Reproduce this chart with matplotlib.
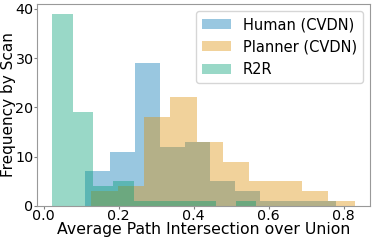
import numpy as np
import matplotlib
matplotlib.use('Agg')
import matplotlib.pyplot as plt

# 每个系列: 直方图的范围 (最小值, 最大值) 和 10 个柱子的计数
labels = ['Human (CVDN)', 'Planner (CVDN)', 'R2R']
colors = ['#0173b2', '#de8f05', '#029e73']

human_range = (0.111, 0.778)
human_counts = [7, 11, 29, 12, 13, 5, 3, 1, 1, 1]

planner_range = (0.127, 0.829)
planner_counts = [3, 4, 18, 22, 13, 9, 5, 5, 3, 1]

r2r_range = (0.023, 0.567)
r2r_counts = [39, 19, 4, 5, 1, 1, 1, 1, 0, 1]

ranges = [human_range, planner_range, r2r_range]
counts = [human_counts, planner_counts, r2r_counts]

fig = plt.figure(figsize=(3.74, 2.40), dpi=100)
ax = fig.add_axes([0.099, 0.142, 0.890, 0.841])

for (lo, hi), c, col, lab in zip(ranges, counts, colors, labels):
    edges = np.linspace(lo, hi, len(c) + 1)
    ax.hist(edges[:-1], bins=edges, weights=c, color=col, alpha=0.4, label=lab)

ax.set_xticks([0.0, 0.2, 0.4, 0.6, 0.8])
ax.set_yticks([0, 10, 20, 30, 40])
ax.tick_params(labelsize=10.3, length=2, color='0.5', pad=0.5)
for s in ax.spines.values():
    s.set_color('0.6')

ax.set_xlabel('Average Path Intersection over Union', fontsize=11.3, labelpad=-1)
ax.set_ylabel('Frequency by Scan', fontsize=11)
ax.yaxis.set_label_coords(-0.064, 0.5)
ax.legend(loc='upper right', fontsize=10.5, borderaxespad=0.5)

fig.savefig('out.png', dpi=100)
